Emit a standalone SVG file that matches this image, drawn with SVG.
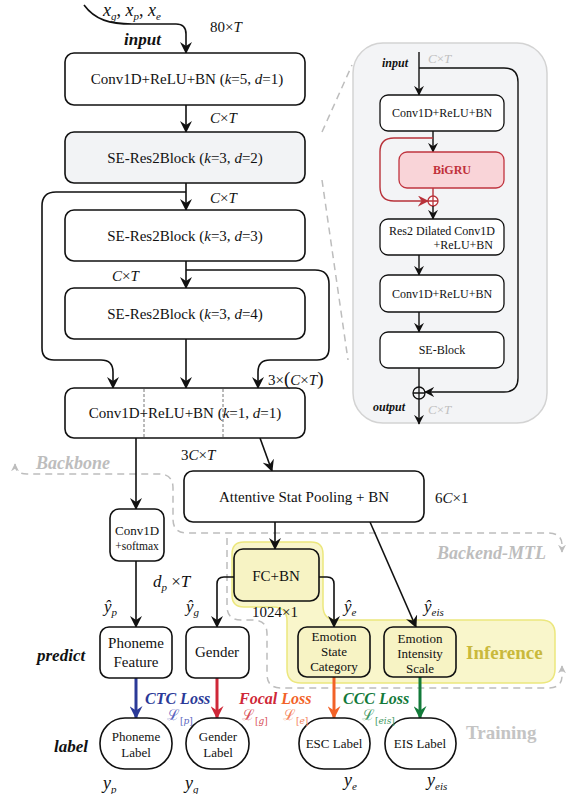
<svg xmlns="http://www.w3.org/2000/svg" width="574" height="794" viewBox="0 0 574 794">
<style>
text{font-family:"Liberation Serif","Times New Roman",serif;fill:#111}
.box{fill:#fff;stroke:#111;stroke-width:1.6}
.gbox{fill:#f2f3f5;stroke:#111;stroke-width:1.6}
.ybox{fill:#f7f3c4;stroke:#111;stroke-width:1.6}
.ibox{fill:#fff;stroke:#111;stroke-width:1.3}
.t15{font-size:15px}
.t13{font-size:13px}
.t12{font-size:12px}
.it{font-style:italic}
.bi{font-style:italic;font-weight:bold}
.line{fill:none;stroke:#111;stroke-width:1.6}
.iline{fill:none;stroke:#111;stroke-width:1.4}
.dash{fill:none;stroke:#bdbdbd;stroke-width:1.5;stroke-dasharray:7,5}
.sub{font-size:11px}
</style>
<defs>
<marker id="ah" viewBox="0 0 12 12" refX="11" refY="6" markerWidth="12" markerHeight="12" markerUnits="userSpaceOnUse" orient="auto"><path d="M0,0 L12,6 L0,12 L4,6 z" fill="#111"/></marker>
<marker id="ahs" viewBox="0 0 12 12" refX="11" refY="6" markerWidth="10" markerHeight="10" markerUnits="userSpaceOnUse" orient="auto"><path d="M0,0 L12,6 L0,12 L4,6 z" fill="#111"/></marker>
<marker id="ahr" viewBox="0 0 12 12" refX="11" refY="6" markerWidth="11" markerHeight="11" markerUnits="userSpaceOnUse" orient="auto"><path d="M0,0 L12,6 L0,12 L4,6 z" fill="#b8323a"/></marker>
<marker id="ahg" viewBox="0 0 12 12" refX="11" refY="6" markerWidth="8" markerHeight="8" markerUnits="userSpaceOnUse" orient="auto-start-reverse"><path d="M0,0 L12,6 L0,12 L4,6 z" fill="#bdbdbd"/></marker>
<marker id="ab" viewBox="0 0 12 12" refX="11" refY="6" markerWidth="13" markerHeight="13" markerUnits="userSpaceOnUse" orient="auto"><path d="M0,0 L12,6 L0,12 L4,6 z" fill="#2b3a98"/></marker>
<marker id="ared" viewBox="0 0 12 12" refX="11" refY="6" markerWidth="13" markerHeight="13" markerUnits="userSpaceOnUse" orient="auto"><path d="M0,0 L12,6 L0,12 L4,6 z" fill="#cf2838"/></marker>
<marker id="ao" viewBox="0 0 12 12" refX="11" refY="6" markerWidth="13" markerHeight="13" markerUnits="userSpaceOnUse" orient="auto"><path d="M0,0 L12,6 L0,12 L4,6 z" fill="#f26228"/></marker>
<marker id="agr" viewBox="0 0 12 12" refX="11" refY="6" markerWidth="13" markerHeight="13" markerUnits="userSpaceOnUse" orient="auto"><path d="M0,0 L12,6 L0,12 L4,6 z" fill="#137a3a"/></marker>
</defs>

<!-- region backgrounds -->
<g id="regions">
<path d="M244,542 L311,542 Q323,542 323,554 L323,606 Q323,620 337,620 L541,620 Q555,620 555,634 L555,669 Q555,683 541,683 L301,683 Q287,683 287,669 L287,621 Q287,607 273,607 L244,607 Q232,607 232,595 L232,554 Q232,542 244,542 Z" fill="#f9f6cb" stroke="#ece77e" stroke-width="1.5"/>
<path class="dash" d="M15,464 Q15,474 27,474 L159,474 Q173,474 173,488 L173,519 Q173,533 187,533 L548,533 Q562,533 562,545 L562,552" marker-start="url(#ahg)" marker-end="url(#ahg)"/>
<path class="dash" d="M227,538 L227,606 Q227,620 241,620 L253,620 Q267,620 267,634 L267,674 Q267,688 281,688 L548,688 Q562,688 562,676 L562,666" marker-end="url(#ahg)"/>
<text x="36" y="469" class="bi" style="font-size:18px;fill:#bdbdbd">Backbone</text>
<text x="437" y="559" class="bi" style="font-size:18px;fill:#bdbdbd">Backend-MTL</text>
<text x="466" y="659" style="font-size:19px;font-weight:bold;fill:#c9b93c">Inference</text>
<text x="466" y="739" style="font-size:19px;font-weight:bold;fill:#c4c4c4">Training</text>
<line class="dash" x1="322" y1="132" x2="352" y2="65"/>
<line class="dash" x1="322" y1="180" x2="348" y2="360"/>
</g>

<!-- inset -->
<g id="inset">
<rect x="353" y="43" width="194" height="380" rx="30" fill="#f3f4f6" stroke="#d3d3d3" stroke-width="1.5"/>
</g>

<g id="connectors">
<path class="line" d="M84,5 C95,20 110,24 132,24 L176,24 Q186,24 186,34 L186,53" marker-end="url(#ah)"/>
<line class="line" x1="186" y1="105" x2="186" y2="132" marker-end="url(#ah)"/>
<line class="line" x1="186" y1="183" x2="186" y2="210" marker-end="url(#ah)"/>
<path class="line" d="M186,192 L56,192 Q42,192 42,206 L42,348 Q42,360 54,360 L101,360 Q113,360 113,372 L113,388" marker-end="url(#ah)"/>
<line class="line" x1="186" y1="261" x2="186" y2="288" marker-end="url(#ah)"/>
<path class="line" d="M186,270 L315,270 Q329,270 329,284 L329,348 Q329,360 317,360 L270,360 Q258,360 258,372 L258,388" marker-end="url(#ah)"/>
<line class="line" x1="186" y1="339" x2="186" y2="388" marker-end="url(#ah)"/>
<line class="line" x1="136" y1="438" x2="136" y2="509" marker-end="url(#ah)"/>
<line class="line" x1="260" y1="438" x2="272" y2="471" marker-end="url(#ah)"/>
<line class="line" x1="275" y1="522" x2="275" y2="549" marker-end="url(#ah)"/>
<line class="line" x1="370" y1="522" x2="416" y2="627" marker-end="url(#ah)"/>
<path class="line" d="M234,577 L224,577 Q217,577 217,584 L217,627" marker-end="url(#ah)"/>
<path class="line" d="M319,577 L327,577 Q334,577 334,584 L334,627" marker-end="url(#ah)"/>
<line class="line" x1="136" y1="561" x2="136" y2="627" marker-end="url(#ah)"/>
<line x1="136" y1="678" x2="136" y2="718" stroke="#2b3a98" stroke-width="3" marker-end="url(#ab)"/>
<line x1="217" y1="678" x2="217" y2="718" stroke="#cf2838" stroke-width="3" marker-end="url(#ared)"/>
<line x1="334" y1="677" x2="334" y2="718" stroke="#f26228" stroke-width="3" marker-end="url(#ao)"/>
<line x1="420" y1="677" x2="420" y2="718" stroke="#137a3a" stroke-width="3" marker-end="url(#agr)"/>
<!-- inset connectors -->
<line class="iline" x1="419" y1="52" x2="419" y2="95" marker-end="url(#ahs)"/>
<path class="iline" d="M419,68 L504,68 Q518,68 518,82 L518,378 Q518,392 504,392 L425,392" marker-end="url(#ahs)"/>
<line class="iline" x1="433" y1="131" x2="433" y2="152" marker-end="url(#ahs)"/>
<path d="M433,138 L394,138 Q380,138 380,152 L380,187 Q380,201 394,201 L428,201" fill="none" stroke="#b8323a" stroke-width="1.4" marker-end="url(#ahr)"/>
<line x1="433" y1="188" x2="433" y2="196" stroke="#b8323a" stroke-width="1.4"/>
<circle cx="433" cy="201" r="5" fill="#fff" stroke="#b8323a" stroke-width="1.3"/>
<path d="M428,201 H438 M433,196 V206" stroke="#b8323a" stroke-width="1.3"/>
<line class="iline" x1="433" y1="206" x2="433" y2="219" marker-end="url(#ahs)"/>
<line class="iline" x1="419" y1="255" x2="419" y2="275" marker-end="url(#ahs)"/>
<line class="iline" x1="419" y1="312" x2="419" y2="332" marker-end="url(#ahs)"/>
<line class="iline" x1="419" y1="368" x2="419" y2="387"/>
<circle cx="419" cy="393" r="6" fill="none" stroke="#111" stroke-width="1.3"/>
<path d="M413,393 H425 M419,387 V399" stroke="#111" stroke-width="1.3"/>
<line class="iline" x1="419" y1="399" x2="419" y2="424" marker-end="url(#ahs)"/>
</g>

<!-- main nodes -->
<g id="conv1">
<rect class="box" x="65" y="53" width="240" height="52" rx="9"/>
<text x="187" y="84" class="t15" text-anchor="middle">Conv1D+ReLU+BN (<tspan class="it">k</tspan>=5, <tspan class="it">d</tspan>=1)</text>
</g>
<g id="seres2">
<rect class="gbox" x="65" y="132" width="240" height="51" rx="9"/>
<text x="185" y="163" class="t15" text-anchor="middle">SE-Res2Block (<tspan class="it">k</tspan>=3, <tspan class="it">d</tspan>=2)</text>
</g>
<g id="seres3">
<rect class="box" x="65" y="210" width="240" height="51" rx="9"/>
<text x="185" y="241" class="t15" text-anchor="middle">SE-Res2Block (<tspan class="it">k</tspan>=3, <tspan class="it">d</tspan>=3)</text>
</g>
<g id="seres4">
<rect class="box" x="65" y="288" width="240" height="51" rx="9"/>
<text x="185" y="319" class="t15" text-anchor="middle">SE-Res2Block (<tspan class="it">k</tspan>=3, <tspan class="it">d</tspan>=4)</text>
</g>
<g id="conv5">
<rect class="box" x="65" y="388" width="240" height="50" rx="9"/>
<line x1="144" y1="389" x2="144" y2="437" stroke="#777" stroke-width="1" stroke-dasharray="3,2"/>
<line x1="223" y1="389" x2="223" y2="437" stroke="#777" stroke-width="1" stroke-dasharray="3,2"/>
<text x="185" y="418" class="t15" text-anchor="middle">Conv1D+ReLU+BN (<tspan class="it">k</tspan>=1, <tspan class="it">d</tspan>=1)</text>
</g>
<g id="asp">
<rect class="box" x="184" y="471" width="240" height="51" rx="9"/>
<text x="304" y="502" class="t15" text-anchor="middle">Attentive Stat Pooling + BN</text>
</g>
<g id="convsoft">
<rect class="box" x="110" y="509" width="54" height="52" rx="9"/>
<text x="137" y="535" class="t13" text-anchor="middle">Conv1D</text>
<text x="137" y="550" style="font-size:11.5px" text-anchor="middle">+softmax</text>
</g>
<g id="fcbn">
<rect class="ybox" x="234" y="549" width="85" height="52" rx="9"/>
<text x="276" y="581" class="t15" text-anchor="middle">FC+BN</text>
</g>
<g id="phoneme">
<rect class="box" x="100" y="627" width="72" height="51" rx="9"/>
<text x="136" y="648" class="t15" text-anchor="middle">Phoneme</text>
<text x="136" y="667" class="t15" text-anchor="middle">Feature</text>
</g>
<g id="gender">
<rect class="box" x="186" y="627" width="63" height="51" rx="9"/>
<text x="217" y="657" class="t15" text-anchor="middle">Gender</text>
</g>
<g id="esc">
<rect class="ybox" x="298" y="627" width="72" height="50" rx="9"/>
<text x="334" y="641" class="t13" text-anchor="middle">Emotion</text>
<text x="334" y="656" class="t13" text-anchor="middle">State</text>
<text x="334" y="671" class="t13" text-anchor="middle">Category</text>
</g>
<g id="eis">
<rect class="ybox" x="384" y="627" width="72" height="50" rx="9"/>
<text x="420" y="643" class="t13" text-anchor="middle">Emotion</text>
<text x="420" y="658" class="t13" text-anchor="middle">Intensity</text>
<text x="420" y="673" class="t13" text-anchor="middle">Scale</text>
</g>
<g id="phonemeLabel">
<rect class="box" x="100" y="718" width="72" height="51" rx="25"/>
<text x="136" y="741" class="t13" text-anchor="middle">Phoneme</text>
<text x="136" y="757" class="t13" text-anchor="middle">Label</text>
</g>
<g id="genderLabel">
<rect class="box" x="186" y="718" width="63" height="51" rx="25"/>
<text x="218" y="741" class="t13" text-anchor="middle">Gender</text>
<text x="218" y="757" class="t13" text-anchor="middle">Label</text>
</g>
<g id="escLabel">
<rect class="box" x="299" y="718" width="71" height="51" rx="25"/>
<text x="334" y="748" class="t13" text-anchor="middle">ESC Label</text>
</g>
<g id="eisLabel">
<rect class="box" x="385" y="718" width="71" height="51" rx="25"/>
<text x="420" y="748" class="t13" text-anchor="middle">EIS Label</text>
</g>

<!-- inset nodes -->
<g id="inConv1">
<rect class="ibox" x="380" y="95" width="124" height="36" rx="8"/>
<text x="442" y="117" class="t12" text-anchor="middle">Conv1D+ReLU+BN</text>
</g>
<g id="bigru">
<rect x="399" y="152" width="105" height="36" rx="8" fill="#f9d4d8" stroke="#c0343f" stroke-width="1.3"/>
<text x="452" y="174" style="font-size:12px;font-weight:bold;fill:#c0303a" text-anchor="middle">BiGRU</text>
</g>
<g id="res2">
<rect class="ibox" x="380" y="219" width="124" height="36" rx="8"/>
<text x="442" y="235" class="t12" text-anchor="middle">Res2 Dilated Conv1D</text>
<text x="493" y="249" class="t12" text-anchor="end">+ReLU+BN</text>
</g>
<g id="inConv2">
<rect class="ibox" x="380" y="275" width="124" height="37" rx="8"/>
<text x="442" y="298" class="t12" text-anchor="middle">Conv1D+ReLU+BN</text>
</g>
<g id="seblock">
<rect class="ibox" x="380" y="332" width="124" height="36" rx="8"/>
<text x="442" y="354" class="t12" text-anchor="middle">SE-Block</text>
</g>

<!-- labels -->
<g id="labels">
<text x="103" y="16" class="it" style="font-size:18px">x<tspan class="sub" dy="4">g</tspan><tspan dy="-4" style="font-style:normal">, </tspan>x<tspan class="sub" dy="4">p</tspan><tspan dy="-4" style="font-style:normal">, </tspan>x<tspan class="sub" dy="4">e</tspan></text>
<text x="124" y="45" class="bi" style="font-size:17px">input</text>
<text x="210" y="32" class="t15">80×<tspan class="it">T</tspan></text>
<text x="210" y="123" class="t15"><tspan class="it">C</tspan>×<tspan class="it">T</tspan></text>
<text x="210" y="203" class="t15"><tspan class="it">C</tspan>×<tspan class="it">T</tspan></text>
<text x="112" y="281" class="t15"><tspan class="it">C</tspan>×<tspan class="it">T</tspan></text>
<text x="268" y="385" class="t15">3×<tspan style="font-size:19px">(</tspan><tspan class="it">C</tspan>×<tspan class="it">T</tspan><tspan style="font-size:19px">)</tspan></text>
<text x="181" y="460" class="t15">3<tspan class="it">C</tspan>×<tspan class="it">T</tspan></text>
<text x="435" y="503" class="t15">6<tspan class="it">C</tspan>×1</text>
<text x="153" y="587" style="font-size:17px"><tspan class="it">d</tspan><tspan class="sub it" dy="4">p</tspan><tspan dy="-4"> ×</tspan><tspan class="it">T</tspan></text>
<text x="252" y="617" class="t15">1024×1</text>
<text x="104" y="612" class="it" style="font-size:17px">ŷ<tspan class="sub" dy="4">p</tspan></text>
<text x="186" y="612" class="it" style="font-size:17px">ŷ<tspan class="sub" dy="4">g</tspan></text>
<text x="344" y="612" class="it" style="font-size:17px">ŷ<tspan class="sub" dy="4">e</tspan></text>
<text x="424" y="612" class="it" style="font-size:17px">ŷ<tspan class="sub" dy="4">eis</tspan></text>
<text x="37" y="661" class="bi" style="font-size:17px">predict</text>
<text x="54" y="752" class="bi" style="font-size:17px">label</text>
<text x="103" y="789" class="it" style="font-size:18px">y<tspan class="sub" dy="4">p</tspan></text>
<text x="185" y="789" class="it" style="font-size:18px">y<tspan class="sub" dy="4">g</tspan></text>
<text x="344" y="786" class="it" style="font-size:18px">y<tspan class="sub" dy="4">e</tspan></text>
<text x="427" y="786" class="it" style="font-size:18px">y<tspan class="sub" dy="4">eis</tspan></text>
<text x="145" y="704" class="bi" style="font-size:16px;fill:#2b3a98">CTC Loss</text>
<text x="167" y="720" style="font-size:15px;fill:#5a66c0;font-family:'DejaVu Serif',serif">ℒ<tspan style="font-size:9px" dy="4">[<tspan class="it">p</tspan>]</tspan></text>
<text x="239" y="704" class="bi" style="font-size:16px;fill:#cf2838">Focal <tspan style="fill:#f26228">Loss</tspan></text>
<text x="242" y="720" style="font-size:15px;fill:#d8505a;font-family:'DejaVu Serif',serif">ℒ<tspan style="font-size:9px" dy="4">[<tspan class="it">g</tspan>]</tspan></text>
<text x="283" y="720" style="font-size:15px;fill:#f4825a;font-family:'DejaVu Serif',serif">ℒ<tspan style="font-size:9px" dy="4">[<tspan class="it">e</tspan>]</tspan></text>
<text x="343" y="704" class="bi" style="font-size:16px;fill:#137a3a">CCC Loss</text>
<text x="362" y="720" style="font-size:15px;fill:#3f9a64;font-family:'DejaVu Serif',serif">ℒ<tspan style="font-size:9px" dy="4">[<tspan class="it">eis</tspan>]</tspan></text>
<text x="382" y="67" class="bi" style="font-size:12px">input</text>
<text x="428" y="63" style="font-size:13px;fill:#c0c0c0"><tspan class="it">C</tspan>×<tspan class="it">T</tspan></text>
<text x="373" y="411" class="bi" style="font-size:12px">output</text>
<text x="428" y="414" style="font-size:13px;fill:#c0c0c0"><tspan class="it">C</tspan>×<tspan class="it">T</tspan></text>
</g>
</svg>
